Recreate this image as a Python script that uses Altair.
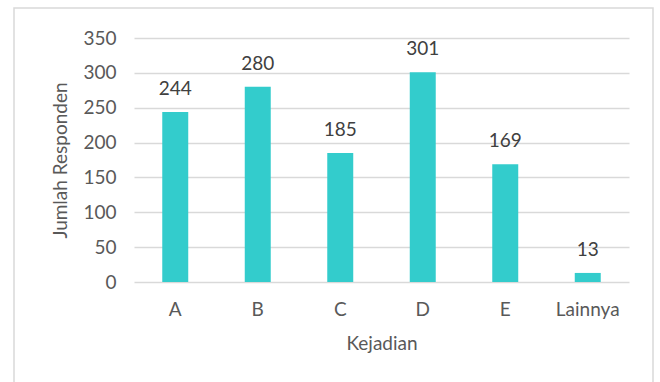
import altair as alt
import pandas as pd

# Jumlah responden per kejadian
kejadian = ["A", "B", "C", "D", "E", "Lainnya"]
jumlah = [244, 280, 185, 301, 169, 13]
y_ticks = [0, 50, 100, 150, 200, 250, 300, 350]

df = pd.DataFrame({"Kejadian": kejadian, "Jumlah": jumlah})

FONT = "Lato"
BAR = "#33CCCC"

x_enc = alt.X(
    "Kejadian:N",
    sort=kejadian,
    scale=alt.Scale(paddingInner=0.685, paddingOuter=0.3425),
    axis=alt.Axis(
        title="Kejadian",
        labelAngle=0,
        ticks=False,
        domain=False,
        labelPadding=18,
        titlePadding=15,
    ),
)
y_enc = alt.Y(
    "Jumlah:Q",
    scale=alt.Scale(domain=[0, 350], nice=False),
    axis=alt.Axis(
        title="Jumlah Responden",
        values=y_ticks,
        tickCount=8,
        labelOverlap=False,
        ticks=False,
        domain=False,
        labelPadding=18,
        titlePadding=12,
        gridColor="#D9D9D9",
        gridWidth=1.5,
    ),
)

bars = alt.Chart(df).mark_bar(color=BAR).encode(x=x_enc, y=y_enc)

labels = alt.Chart(df).mark_text(
    font=FONT, fontSize=19, color="#404040", baseline="alphabetic", dy=-17
).encode(x=x_enc, y=y_enc, text="Jumlah:Q")

# light frame around the whole chart
frame = alt.Chart(pd.DataFrame({"k": [0]})).mark_rect(
    fill=None, stroke="#D9D9D9", strokeWidth=1.5, clip=False
).encode(
    x=alt.value(-120), x2=alt.value(519), y=alt.value(-30), y2=alt.value(400)
)

chart = (
    alt.layer(bars, labels, frame)
    .properties(
        width=495,
        height=244,
        autosize=alt.AutoSizeParams(type="none"),
        padding={"left": 134, "top": 38, "right": 31, "bottom": 100},
        background="white",
    )
    .configure_view(stroke=None)
    .configure_axis(
        labelFont=FONT,
        titleFont=FONT,
        labelFontSize=19,
        titleFontSize=19,
        labelColor="#595959",
        titleColor="#595959",
        titleFontWeight="normal",
    )
)

chart.save("out.html", embed_options={"renderer": "svg", "actions": False})
